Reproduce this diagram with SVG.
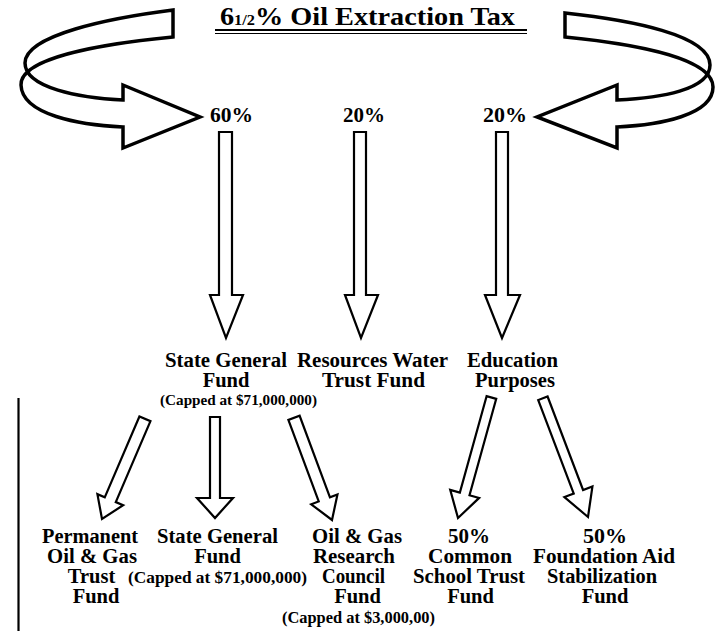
<svg xmlns="http://www.w3.org/2000/svg" width="719" height="631" viewBox="0 0 719 631">
<style>
  .lbl { font-size: 20.5px; text-anchor: middle; }
  .cap { text-anchor: middle; }
  .curl { fill: none; stroke: #000; stroke-width: 3.5; stroke-linejoin: miter; }
  .blk { fill: #fff; stroke: #000; stroke-width: 2.2; stroke-linejoin: miter; }
</style>
<rect width="719" height="631" fill="#fff"/>

<g id="title" font-family="'Liberation Serif', serif" font-weight="bold">
  <text x="220" y="25" font-size="26" textLength="295" lengthAdjust="spacingAndGlyphs"><tspan>6</tspan><tspan font-size="15">1/2</tspan><tspan>% Oil Extraction Tax</tspan></text>
  <line x1="215" y1="30" x2="527" y2="30" stroke="#000" stroke-width="2"/>
  <line x1="215" y1="33.5" x2="527" y2="33.5" stroke="#000" stroke-width="1"/>
</g>

<g id="connectors">
  <path class="curl" d="M173,10 C110,18 25,35 25,63 C25,88 80,98 123,100 L123,85 L200,117 L123,148 L123,127 C80,125 22,115 21,85 C20,60 90,45 173,37 Z"/>
  <path class="curl" d="M565,13 C630,20 710,35 710,65 C710,90 660,98 617,100 L617,85 L537,117 L617,148 L617,127 C660,125 713,115 713,87 C713,60 645,45 565,37 Z"/>
  <path class="blk" d="M219,132 H232 V295 H243 L226,338 L210,295 H219 Z"/>
  <path class="blk" d="M354,132 H366 V295 H378 L361,338 L345,295 H354 Z"/>
  <path class="blk" d="M496,132 H508 V295 H520 L502,338 L485,295 H496 Z"/>
  <g transform="translate(102,519) rotate(23.2)"><path class="blk" d="M-6,-109 V-21 H-14 L0,0 L14,-21 H6 V-109 Z"/></g>
  <path class="blk" d="M210,417 H220 V498 H233 L215,518 L197,498 H210 Z"/>
  <g transform="translate(332,520) rotate(-20.4)"><path class="blk" d="M-6,-109 V-22 H-14 L0,0 L14,-22 H6 V-109 Z"/></g>
  <g transform="translate(458,518) rotate(15.5)"><path class="blk" d="M-5,-125 V-25 H-15 L0,0 L15,-25 H5 V-125 Z"/></g>
  <g transform="translate(588,517) rotate(-20.8)"><path class="blk" d="M-5,-127 V-27 H-15 L0,0 L15,-27 H5 V-127 Z"/></g>
  <line x1="18.5" y1="398" x2="18.5" y2="631" stroke="#000" stroke-width="2.2"/>
</g>

<g font-family="'Liberation Serif', serif" font-weight="bold" fill="#000">
<g id="p60"><text class="lbl" x="231.5" y="122" textLength="43" lengthAdjust="spacingAndGlyphs">60%</text></g>
<g id="p20a"><text class="lbl" x="364" y="122" textLength="42" lengthAdjust="spacingAndGlyphs">20%</text></g>
<g id="p20b"><text class="lbl" x="505" y="122" textLength="44" lengthAdjust="spacingAndGlyphs">20%</text></g>

<g id="state-general-fund">
  <text class="lbl" x="226" y="367" textLength="122" lengthAdjust="spacingAndGlyphs">State General</text>
  <text class="lbl" x="226" y="387">Fund</text>
  <text class="cap" x="238.5" y="405" font-size="15" textLength="157" lengthAdjust="spacingAndGlyphs">(Capped at $71,000,000)</text>
</g>
<g id="resources-water">
  <text class="lbl" x="372.5" y="367" textLength="151" lengthAdjust="spacingAndGlyphs">Resources Water</text>
  <text class="lbl" x="373.5" y="387" textLength="103" lengthAdjust="spacingAndGlyphs">Trust Fund</text>
</g>
<g id="education">
  <text class="lbl" x="512.5" y="367" textLength="91" lengthAdjust="spacingAndGlyphs">Education</text>
  <text class="lbl" x="515" y="387" textLength="80" lengthAdjust="spacingAndGlyphs">Purposes</text>
</g>

<g id="permanent-trust">
  <text class="lbl" x="90" y="543" textLength="96" lengthAdjust="spacingAndGlyphs">Permanent</text>
  <text class="lbl" x="92" y="563" textLength="90" lengthAdjust="spacingAndGlyphs">Oil &amp; Gas</text>
  <text class="lbl" x="91.5" y="583">Trust</text>
  <text class="lbl" x="96" y="603">Fund</text>
</g>
<g id="state-general-fund-2">
  <text class="lbl" x="217.5" y="543" textLength="121" lengthAdjust="spacingAndGlyphs">State General</text>
  <text class="lbl" x="217.5" y="563">Fund</text>
  <text class="cap" x="217.5" y="583" font-size="17" textLength="179" lengthAdjust="spacingAndGlyphs">(Capped at $71,000,000)</text>
</g>
<g id="research-council">
  <text class="lbl" x="357" y="543" textLength="90" lengthAdjust="spacingAndGlyphs">Oil &amp; Gas</text>
  <text class="lbl" x="354" y="563" textLength="82" lengthAdjust="spacingAndGlyphs">Research</text>
  <text class="lbl" x="353.5" y="583" textLength="63" lengthAdjust="spacingAndGlyphs">Council</text>
  <text class="lbl" x="357.5" y="603">Fund</text>
  <text class="cap" x="358.5" y="623" font-size="16" textLength="153" lengthAdjust="spacingAndGlyphs">(Capped at $3,000,00)</text>
</g>
<g id="common-school">
  <text class="lbl" x="469" y="543" textLength="42" lengthAdjust="spacingAndGlyphs">50%</text>
  <text class="lbl" x="470" y="563" textLength="84" lengthAdjust="spacingAndGlyphs">Common</text>
  <text class="lbl" x="469" y="583" textLength="112" lengthAdjust="spacingAndGlyphs">School Trust</text>
  <text class="lbl" x="470.5" y="603">Fund</text>
</g>
<g id="foundation-aid">
  <text class="lbl" x="605" y="543" textLength="44" lengthAdjust="spacingAndGlyphs">50%</text>
  <text class="lbl" x="604" y="563" textLength="142" lengthAdjust="spacingAndGlyphs">Foundation Aid</text>
  <text class="lbl" x="602" y="583" textLength="110" lengthAdjust="spacingAndGlyphs">Stabilization</text>
  <text class="lbl" x="605" y="603">Fund</text>
</g>
</g>
</svg>
